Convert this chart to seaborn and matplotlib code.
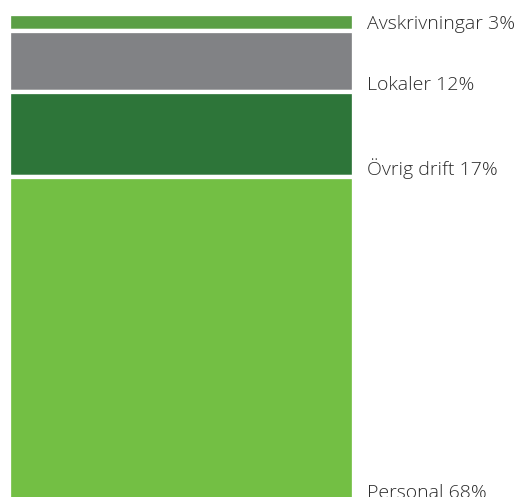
import matplotlib
matplotlib.use("Agg")
import matplotlib.pyplot as plt
import seaborn as sns

# Cost shares, top to bottom
categories = ["Avskrivningar", "Lokaler", "Övrig drift", "Personal"]
shares = [3.4, 12, 17, 68]
colors = ["#5b9f45", "#818285", "#2d7539", "#73bf44"]

sns.set_theme(style="white")
plt.rcParams['font.family'] = ['Open Sans', 'DejaVu Sans']

fig = plt.figure(figsize=(5.19, 4.97), dpi=100)
ax = fig.add_axes([0, 0, 1, 1])

# stacked single column, drawn from the top down
bottom = 0
ends = []
for cat, val, col in zip(categories, shares, colors):
    sns.barplot(x=["total"], y=[val], bottom=bottom, color=col, saturation=1,
                width=0.8, edgecolor="white", linewidth=3.1, ax=ax)
    bottom += val
    ends.append(bottom)

ymax = 96.0
ax.set_ylim(ymax, -2.8)
ax.set_xlim(-0.4212, 0.7833)
ax.axis("off")

# labels sit on the lower edge of each block
for cat, val, end in zip(categories, shares, ends):
    y = min(end - 0.4, ymax + 0.2)
    ax.text(0.4305, y, f"{cat} {val:.0f}%", ha="left", va="baseline",
            fontsize=14, fontweight="light", color="#2b2b2b", clip_on=False)

fig.savefig("out.png", dpi=100)
